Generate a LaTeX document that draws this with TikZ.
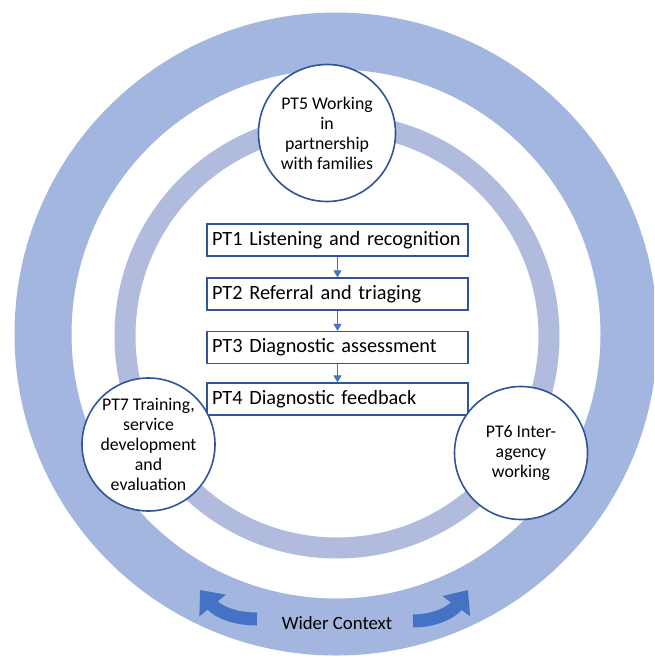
\documentclass[tikz,border=0pt]{standalone}
\usepackage{fontspec}
\setmainfont{Carlito}
\usetikzlibrary{arrows.meta}
\definecolor{ctxblue}{RGB}{162,182,224}
\definecolor{ringblue}{RGB}{176,187,221}
\definecolor{edgeblue}{RGB}{47,85,151}
\definecolor{arrowblue}{RGB}{68,114,196}

\begin{document}
\begin{tikzpicture}[x=1pt,y=-1pt,
    ptcircle/.style={circle,draw=edgeblue,line width=1.6pt,fill=white,
        minimum size=133pt,inner sep=0pt,align=center,
        font=\fontsize{17.8}{20}\selectfont},
    ptbox/.style={draw=edgeblue,line width=1.3pt,fill=white,
        minimum width=261pt,minimum height=32pt,text width=251pt,
        align=left,inner xsep=5pt,font=\fontsize{20.3}{22}\selectfont},
    flow/.style={draw=arrowblue,line width=1pt,-{Triangle[length=7pt,width=8pt]}},
    turn/.style={arrowblue,line width=13pt,-{Triangle[length=20pt,width=33pt]}}]

    \clip (0,0) rectangle (654,661);
    \fill[white] (0,0) rectangle (654,661);

    % rings
    \coordinate (c) at (336,334);
    \draw[ctxblue,line width=57pt] (c) circle (293pt);
    \draw[ringblue,line width=21pt] (337,336) circle (212pt);

    % wider context
    \node[font=\fontsize{18.8}{20}\selectfont] (ctx) at (337,623) {Wider Context};
    \coordinate (lt) at (257,619);
    \coordinate (rt) at (413,621);
    \draw[turn] (lt) .. controls (235,619) and (218,612) .. (200,590);
    \draw[turn] (rt) .. controls (435,621) and (452,612) .. (468,590);

    % pathway steps
    \node[ptbox] (pt1) at (337.5,240) {PT1 Listening and recognition};
    \node[ptbox] (pt2) at (337.5,294) {PT2 Referral and triaging};
    \node[ptbox] (pt3) at (337.5,347.5) {PT3 Diagnostic assessment};
    \node[ptbox] (pt4) at (337.5,399) {PT4 Diagnostic feedback};
    \draw[flow] (pt1) -- (pt2);
    \draw[flow] (pt2) -- (pt3);
    \draw[flow] (pt3) -- (pt4);

    % themes
    \node[ptcircle,minimum size=137pt] (pt5) at (327,133) {PT5 Working\\in\\partnership\\with families};
    \node[ptcircle] (pt7) at (148.5,444.5) {PT7 Training,\\service\\development\\and\\evaluation};
    \node[ptcircle] (pt6) at (521,453) {PT6 Inter-\\agency\\working};
\end{tikzpicture}
\end{document}
